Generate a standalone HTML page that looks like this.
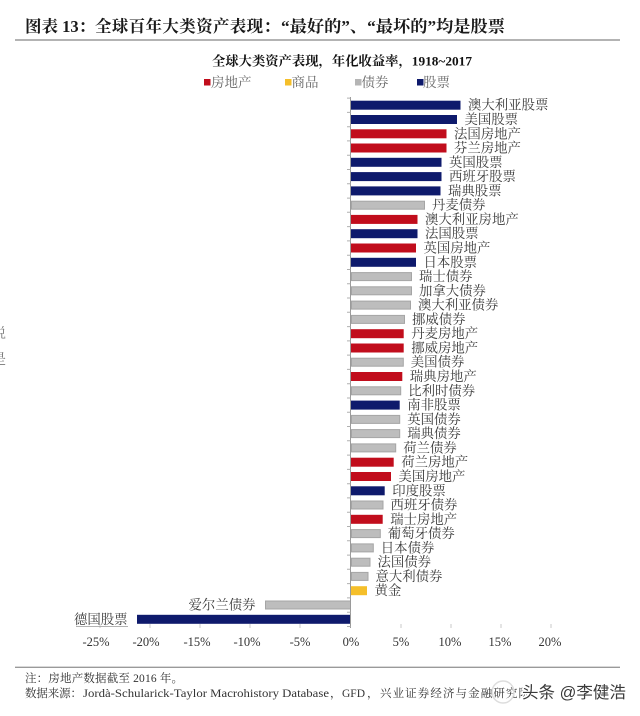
<!DOCTYPE html>
<html><head><meta charset="utf-8"><style>
html,body{margin:0;padding:0;background:#fff;}
svg{display:block;}
.cj{font-family:"Liberation Serif","Noto Serif CJK SC",serif;}
.lb{font-family:"Liberation Serif","Noto Serif CJK SC",serif;font-size:13.4px;fill:#3a3a3a;dominant-baseline:central;}
</style></head><body>
<svg width="640" height="716" viewBox="0 0 640 716" xmlns="http://www.w3.org/2000/svg">
<rect width="640" height="716" fill="#fff"/>
<!-- Title -->
<text class="cj" x="25" y="32" font-size="16.5" font-weight="700" fill="#1a1a1a">图表 13：</text>
<text class="cj" x="95" y="32" font-size="16.5" font-weight="700" fill="#1a1a1a" textLength="185" lengthAdjust="spacing">全球百年大类资产表现：</text>
<text class="cj" x="281" y="32" font-size="16.5" font-weight="700" fill="#1a1a1a" textLength="224" lengthAdjust="spacingAndGlyphs">“最好的”、“最坏的”均是股票</text>
<line x1="15" y1="40" x2="620" y2="40" stroke="#9a9a9a" stroke-width="1.6"/>
<!-- chart title -->
<text class="cj" x="212" y="65.3" font-size="13" font-weight="700" fill="#111" textLength="260" lengthAdjust="spacingAndGlyphs">全球大类资产表现，年化收益率，1918~2017</text>
<!-- legend -->
<rect x="204" y="79" width="6.5" height="6.5" fill="#c10d1c"/>
<text class="cj" x="211" y="87" font-size="13.5" fill="#666">房地产</text>
<rect x="285" y="79" width="6.5" height="6.5" fill="#f5bf2a"/>
<text class="cj" x="291.5" y="87" font-size="13.5" fill="#666">商品</text>
<rect x="355" y="79" width="6.5" height="6.5" fill="#b5b5b5"/>
<text class="cj" x="361.5" y="87" font-size="13.5" fill="#666">债券</text>
<rect x="417" y="79" width="6.5" height="6.5" fill="#0e1a6c"/>
<text class="cj" x="423" y="87" font-size="13.5" fill="#666">股票</text>

<!-- left edge partial chars -->
<text class="cj" x="-8" y="338" font-size="14" fill="#777">说</text>
<text class="cj" x="-8" y="364" font-size="14" fill="#777">是</text>

<!-- bars -->
<g>
<rect x="351" y="100.7" width="109.5" height="9" fill="#0e1a6c"/>
<rect x="351" y="115.0" width="106" height="9" fill="#0e1a6c"/>
<rect x="351" y="129.3" width="95.5" height="9" fill="#c10d1c"/>
<rect x="351" y="143.5" width="95.5" height="9" fill="#c10d1c"/>
<rect x="351" y="157.8" width="90.5" height="9" fill="#0e1a6c"/>
<rect x="351" y="172.1" width="90.5" height="9" fill="#0e1a6c"/>
<rect x="351" y="186.4" width="89.5" height="9" fill="#0e1a6c"/>
<rect x="351.5" y="201.2" width="73" height="8" fill="#bdbdbd" stroke="#a5a5a5" stroke-width="1"/>
<rect x="351" y="214.9" width="66.5" height="9" fill="#c10d1c"/>
<rect x="351" y="229.2" width="66.5" height="9" fill="#0e1a6c"/>
<rect x="351" y="243.5" width="65" height="9" fill="#c10d1c"/>
<rect x="351" y="257.8" width="65" height="9" fill="#0e1a6c"/>
<rect x="351.5" y="272.6" width="60" height="8" fill="#bdbdbd" stroke="#a5a5a5" stroke-width="1"/>
<rect x="351.5" y="286.8" width="60" height="8" fill="#bdbdbd" stroke="#a5a5a5" stroke-width="1"/>
<rect x="351.5" y="301.1" width="59" height="8" fill="#bdbdbd" stroke="#a5a5a5" stroke-width="1"/>
<rect x="351.5" y="315.4" width="53" height="8" fill="#bdbdbd" stroke="#a5a5a5" stroke-width="1"/>
<rect x="351" y="329.2" width="52.7" height="9" fill="#c10d1c"/>
<rect x="351" y="343.5" width="52.7" height="9" fill="#c10d1c"/>
<rect x="351.5" y="358.2" width="51.8" height="8" fill="#bdbdbd" stroke="#a5a5a5" stroke-width="1"/>
<rect x="351" y="372.0" width="51.3" height="9" fill="#c10d1c"/>
<rect x="351.5" y="386.8" width="49.2" height="8" fill="#bdbdbd" stroke="#a5a5a5" stroke-width="1"/>
<rect x="351" y="400.6" width="48.7" height="9" fill="#0e1a6c"/>
<rect x="351.5" y="415.4" width="48.2" height="8" fill="#bdbdbd" stroke="#a5a5a5" stroke-width="1"/>
<rect x="351.5" y="429.6" width="48.2" height="8" fill="#bdbdbd" stroke="#a5a5a5" stroke-width="1"/>
<rect x="351.5" y="443.9" width="44.2" height="8" fill="#bdbdbd" stroke="#a5a5a5" stroke-width="1"/>
<rect x="351" y="457.7" width="42.7" height="9" fill="#c10d1c"/>
<rect x="351" y="472.0" width="40" height="9" fill="#c10d1c"/>
<rect x="351" y="486.3" width="33.7" height="9" fill="#0e1a6c"/>
<rect x="351.5" y="501.0" width="31.5" height="8" fill="#bdbdbd" stroke="#a5a5a5" stroke-width="1"/>
<rect x="351" y="514.8" width="31.7" height="9" fill="#c10d1c"/>
<rect x="351.5" y="529.6" width="28.8" height="8" fill="#bdbdbd" stroke="#a5a5a5" stroke-width="1"/>
<rect x="351.5" y="543.9" width="21.8" height="8" fill="#bdbdbd" stroke="#a5a5a5" stroke-width="1"/>
<rect x="351.5" y="558.2" width="18.5" height="8" fill="#bdbdbd" stroke="#a5a5a5" stroke-width="1"/>
<rect x="351.5" y="572.4" width="16.5" height="8" fill="#bdbdbd" stroke="#a5a5a5" stroke-width="1"/>
<rect x="351" y="586.2" width="16" height="9" fill="#f5bf2a"/>
<rect x="265.5" y="601.0" width="85" height="8" fill="#bdbdbd" stroke="#a5a5a5" stroke-width="1"/>
<rect x="137" y="614.8" width="213.5" height="9" fill="#0e1a6c"/>
</g>

<!-- axis -->
<line x1="350.5" y1="97" x2="350.5" y2="628" stroke="#9a9a9a" stroke-width="1"/>
<path d="M347 98.1h3.5M347 112.4h3.5M347 126.7h3.5M347 140.9h3.5M347 155.2h3.5M347 169.5h3.5M347 183.8h3.5M347 198.1h3.5M347 212.3h3.5M347 226.6h3.5M347 240.9h3.5M347 255.2h3.5M347 269.5h3.5M347 283.7h3.5M347 298h3.5M347 312.3h3.5M347 326.6h3.5M347 340.9h3.5M347 355.1h3.5M347 369.4h3.5M347 383.7h3.5M347 398h3.5M347 412.3h3.5M347 426.5h3.5M347 440.8h3.5M347 455.1h3.5M347 469.4h3.5M347 483.7h3.5M347 497.9h3.5M347 512.2h3.5M347 526.5h3.5M347 540.8h3.5M347 555.1h3.5M347 569.3h3.5M347 583.6h3.5M347 597.9h3.5M347 612.2h3.5M347 626.5h3.5" stroke="#b0b0b0" stroke-width="1"/>
<path d="M100 624v4M150 624v4M200 624v4M250 624v4M300 624v4M401 624v4M451 624v4M501 624v4M551 624v4" stroke="#c8c8c8" stroke-width="1"/>

<!-- labels -->
<g class="lb">
<text class="lb" x="468" y="105.2">澳大利亚股票</text>
<text class="lb" x="464.5" y="119.5">美国股票</text>
<text class="lb" x="454" y="133.8">法国房地产</text>
<text class="lb" x="454" y="148.0">芬兰房地产</text>
<text class="lb" x="449" y="162.3">英国股票</text>
<text class="lb" x="449" y="176.6">西班牙股票</text>
<text class="lb" x="448" y="190.9">瑞典股票</text>
<text class="lb" x="432" y="205.2">丹麦债券</text>
<text class="lb" x="425" y="219.4">澳大利亚房地产</text>
<text class="lb" x="425" y="233.7">法国股票</text>
<text class="lb" x="423.5" y="248.0">英国房地产</text>
<text class="lb" x="423.5" y="262.3">日本股票</text>
<text class="lb" x="419" y="276.6">瑞士债券</text>
<text class="lb" x="419" y="290.8">加拿大债券</text>
<text class="lb" x="418" y="305.1">澳大利亚债券</text>
<text class="lb" x="412" y="319.4">挪威债券</text>
<text class="lb" x="411.2" y="333.7">丹麦房地产</text>
<text class="lb" x="411.2" y="348.0">挪威房地产</text>
<text class="lb" x="410.8" y="362.2">美国债券</text>
<text class="lb" x="409.8" y="376.5">瑞典房地产</text>
<text class="lb" x="408.2" y="390.8">比利时债券</text>
<text class="lb" x="407.2" y="405.1">南非股票</text>
<text class="lb" x="407.2" y="419.4">英国债券</text>
<text class="lb" x="407.2" y="433.6">瑞典债券</text>
<text class="lb" x="403.2" y="447.9">荷兰债券</text>
<text class="lb" x="401.2" y="462.2">荷兰房地产</text>
<text class="lb" x="398.5" y="476.5">美国房地产</text>
<text class="lb" x="392.2" y="490.8">印度股票</text>
<text class="lb" x="390.5" y="505.0">西班牙债券</text>
<text class="lb" x="390.2" y="519.3">瑞士房地产</text>
<text class="lb" x="387.8" y="533.6">葡萄牙债券</text>
<text class="lb" x="380.8" y="547.9">日本债券</text>
<text class="lb" x="377.5" y="562.2">法国债券</text>
<text class="lb" x="375.5" y="576.4">意大利债券</text>
<text class="lb" x="374.5" y="590.7">黄金</text>
<text class="lb" x="255.5" y="605.0" text-anchor="end">爱尔兰债券</text>
<text class="lb" x="127.5" y="619.3" text-anchor="end">德国股票</text>
</g>
<line x1="76" y1="626.5" x2="128" y2="626.5" stroke="#999" stroke-width="0.8"/>

<!-- x tick labels -->
<g font-family="Liberation Serif, serif" font-size="12.5" fill="#333" text-anchor="middle">
<text x="96" y="646">-25%</text>
<text x="146" y="646">-20%</text>
<text x="197" y="646">-15%</text>
<text x="247" y="646">-10%</text>
<text x="300" y="646">-5%</text>
<text x="351" y="646">0%</text>
<text x="401" y="646">5%</text>
<text x="450" y="646">10%</text>
<text x="500" y="646">15%</text>
<text x="550" y="646">20%</text>
</g>

<!-- footer -->
<line x1="15" y1="667.3" x2="620" y2="667.3" stroke="#9a9a9a" stroke-width="1.4"/>
<text class="cj" x="25" y="681.8" font-size="11.5" fill="#333" textLength="158" lengthAdjust="spacing">注：房地产数据截至 2016 年。</text>
<text class="cj" x="25" y="697" font-size="11.5" fill="#333" textLength="57" lengthAdjust="spacing">数据来源：</text>
<text class="cj" x="83" y="697" font-size="11.5" fill="#333" textLength="246" lengthAdjust="spacingAndGlyphs">Jordà-Schularick-Taylor Macrohistory Database</text>
<text class="cj" x="330" y="697" font-size="11.5" fill="#333">，</text>
<text class="cj" x="342" y="697" font-size="11.5" fill="#333">GFD</text>
<text class="cj" x="367" y="697" font-size="11.5" fill="#333">，</text>
<text class="cj" x="380" y="697" font-size="11.5" fill="#333" textLength="150" lengthAdjust="spacing">兴业证券经济与金融研究院</text>
<!-- watermark -->
<circle cx="503" cy="692" r="11" fill="none" stroke="#ddd" stroke-width="1.5"/>
<text x="522" y="698" font-family="Liberation Sans, Noto Sans CJK SC, sans-serif" font-size="16.5" fill="#3a3a3a" stroke="#fff" stroke-width="3" paint-order="stroke">头条 @李健浩</text>
</svg>
</body></html>
